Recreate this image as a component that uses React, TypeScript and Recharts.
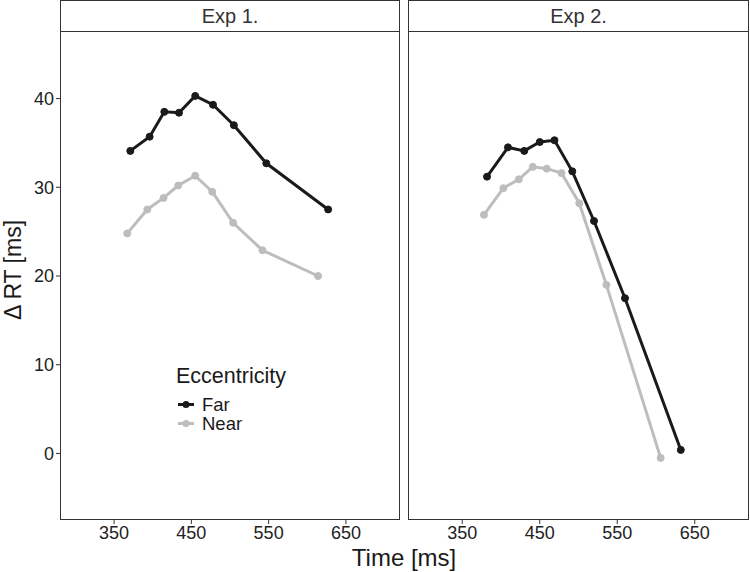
import React from 'react';
import { LineChart, Line, XAxis, YAxis } from 'recharts';

// Exp 1.
const exp1FarTime = [371, 396, 415, 434, 455, 478, 505, 547, 627];
const exp1FarRT = [34.1, 35.7, 38.5, 38.4, 40.3, 39.3, 37.0, 32.7, 27.5];
const exp1NearTime = [367, 393, 414, 433, 455, 477, 504, 542, 614];
const exp1NearRT = [24.8, 27.5, 28.8, 30.2, 31.3, 29.5, 26.0, 22.9, 20.0];

// Exp 2.
const exp2FarTime = [382, 409, 430, 450, 469, 492, 520, 560, 632];
const exp2FarRT = [31.2, 34.5, 34.1, 35.1, 35.3, 31.8, 26.2, 17.5, 0.4];
const exp2NearTime = [378, 403, 423, 441, 459, 478, 501, 536, 606];
const exp2NearRT = [26.9, 29.9, 30.9, 32.3, 32.1, 31.6, 28.2, 19.0, -0.5];

const xTicks = [350, 450, 550, 650];
const yTicks = [0, 10, 20, 30, 40];
const panels = ['Exp 1.', 'Exp 2.'];
const groups = ['Far', 'Near'];

const FAR = '#1a1a1a';
const NEAR = '#bdbdbd';
const FONT = '"Liberation Sans", Arial, Helvetica, sans-serif';

const zip = (t: number[], v: number[]) => t.map((time, i) => ({ time, rt: v[i] }));

const panelData = [
  { far: zip(exp1FarTime, exp1FarRT), near: zip(exp1NearTime, exp1NearRT) },
  { far: zip(exp2FarTime, exp2FarRT), near: zip(exp2NearTime, exp2NearRT) },
];

const tick = { fontSize: 18, fill: '#222', fontFamily: FONT };

function LegendBox() {
  return (
    <div style={{ position: 'absolute', left: 176, top: 364, fontFamily: FONT, color: '#1a1a1a' }}>
      <div style={{ fontSize: 21.5, lineHeight: '24px', marginBottom: 7 }}>Eccentricity</div>
      {groups.map((g, i) => (
        <div key={g} style={{ display: 'flex', alignItems: 'center', height: 19 }}>
          <svg width={22} height={19}>
            <line x1={2} x2={18} y1={9.5} y2={9.5} stroke={i === 0 ? FAR : NEAR} strokeWidth={3} />
            <circle cx={10} cy={9.5} r={3.5} fill={i === 0 ? FAR : NEAR} />
          </svg>
          <span style={{ fontSize: 18.5, marginLeft: 4 }}>{g}</span>
        </div>
      ))}
    </div>
  );
}

function Panel({ idx }: { idx: number }) {
  const first = idx === 0;
  const w = first ? 410 : 342;
  const plotLeft = first ? 60 : 0;
  const right = first ? 10 : 1;
  const d = panelData[idx];
  return (
    <div style={{ position: 'absolute', left: first ? 0 : 408, top: 0, width: w, height: 572 }}>
      <LineChart width={w} height={572} margin={{ top: 32, right, bottom: 0, left: 0 }}>
        <XAxis
          type="number"
          dataKey="time"
          domain={[280, 720]}
          ticks={xTicks}
          allowDataOverflow
          axisLine={false}
          tickLine={{ stroke: '#333' }}
          tickSize={4}
          tick={tick}
          height={52}
        />
        <YAxis
          type="number"
          dataKey="rt"
          domain={[-7.5, 47.5]}
          ticks={yTicks}
          allowDataOverflow
          hide={!first}
          width={60}
          axisLine={false}
          tickLine={{ stroke: '#333' }}
          tickSize={4}
          tick={tick}
        />
        <Line
          data={d.near}
          dataKey="rt"
          name="Near"
          stroke={NEAR}
          strokeWidth={3}
          dot={{ r: 3.5, fill: NEAR, stroke: NEAR, strokeWidth: 1 }}
          isAnimationActive={false}
        />
        <Line
          data={d.far}
          dataKey="rt"
          name="Far"
          stroke={FAR}
          strokeWidth={3}
          dot={{ r: 3.5, fill: FAR, stroke: FAR, strokeWidth: 1 }}
          isAnimationActive={false}
        />
      </LineChart>
      {/* strip */}
      <div
        style={{
          position: 'absolute',
          left: plotLeft,
          top: 0,
          width: w - plotLeft - right,
          height: 32,
          boxSizing: 'border-box',
          border: '1.5px solid #333',
          background: '#fff',
          fontFamily: FONT,
          fontSize: 20,
          color: '#333',
          display: 'flex',
          alignItems: 'center',
          justifyContent: 'center',
        }}
      >
        {panels[idx]}
      </div>
      {/* panel border */}
      <div
        style={{
          position: 'absolute',
          left: plotLeft,
          top: 31,
          width: w - plotLeft - right,
          height: 489,
          boxSizing: 'border-box',
          border: '1.5px solid #333',
          pointerEvents: 'none',
        }}
      />
      {first && <LegendBox />}
    </div>
  );
}

export default function App() {
  return (
    <div style={{ position: 'absolute', left: 0, top: 0, width: 750, height: 572, background: '#fff' }}>
      <Panel idx={0} />
      <Panel idx={1} />
      <div
        style={{
          position: 'absolute',
          left: 13,
          top: 270,
          transform: 'translate(-50%, -50%) rotate(-90deg)',
          fontFamily: FONT,
          fontSize: 23,
          color: '#1a1a1a',
          whiteSpace: 'nowrap',
        }}
      >
        Δ RT [ms]
      </div>
      <div
        style={{
          position: 'absolute',
          left: 404,
          top: 558,
          transform: 'translate(-50%, -50%)',
          fontFamily: FONT,
          fontSize: 24,
          color: '#1a1a1a',
          whiteSpace: 'nowrap',
        }}
      >
        Time [ms]
      </div>
    </div>
  );
}
